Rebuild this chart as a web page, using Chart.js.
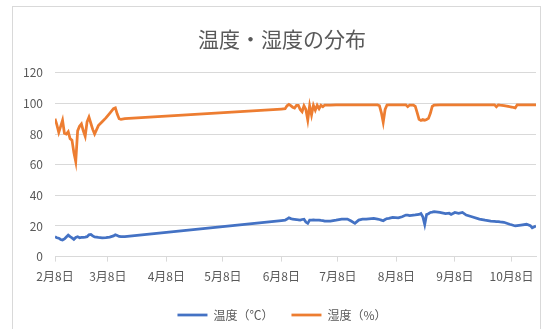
<!DOCTYPE html>
<html>
<head>
<meta charset="utf-8">
<script src="https://cdn.jsdelivr.net/npm/chart.js@4/dist/chart.umd.min.js"></script>
<style>
  html, body { margin: 0; padding: 0; background: #ffffff; }
  #wrap { position: relative; width: 553px; height: 329px; }
</style>
</head>
<body>
<div id="wrap"><canvas id="c" width="553" height="329"></canvas></div>
<script>
// ---- data (dates are month/day) ----
const dates = [
  '2/8','2/9','2/10','2/11','2/12','2/13','2/14','2/15','2/16','2/17','2/18','2/19','2/20','2/21','2/22','2/23','2/24','2/25','2/26','2/27','2/28',
  '3/1','3/3','3/5','3/7','3/9','3/11','3/12','3/13','3/14','3/15','3/17',
  '6/8','6/10','6/11','6/12','6/13','6/14','6/15','6/16','6/17','6/18','6/19','6/20','6/21','6/22','6/23','6/24','6/25','6/26','6/27','6/28','6/29','6/30',
  '7/1','7/4','7/7','7/10','7/13','7/15','7/17','7/19','7/21','7/23','7/27','7/29','7/30','7/31',
  '8/1','8/2','8/3','8/4','8/6','8/9','8/11','8/13','8/14','8/15','8/17','8/18','8/19','8/20','8/21','8/22','8/23','8/24','8/25','8/26','8/27','8/28','8/31',
  '9/3','9/5','9/6','9/8','9/10','9/12','9/14','9/17','9/21','9/24','9/27','9/29','9/30',
  '10/1','10/2','10/4','10/7','10/8','10/10','10/11','10/13','10/16','10/18','10/19','10/21'
];
const temperature = [
  12.9,12.3,12.0,11.2,10.8,11.5,12.8,14.0,13.0,12.2,11.2,12.5,13.0,12.3,12.6,12.5,12.7,13.0,14.3,14.5,13.5,
  12.8,12.5,12.3,12.4,12.7,13.5,14.2,13.8,13.2,13.0,13.1,
  23.5,23.8,24.5,25.3,24.8,24.4,24.3,24.2,24.0,23.8,24.2,24.4,22.5,21.7,23.8,23.8,23.9,23.8,23.8,23.8,23.6,23.5,
  23.2,23.2,23.8,24.5,24.5,23.2,21.7,23.8,24.4,24.4,24.9,24.5,24.2,23.8,
  23.4,24.2,24.8,24.9,25.6,25.3,26.0,27.1,27.0,26.7,27.1,27.2,27.4,27.5,28.1,26.0,21.0,27.5,28.0,28.8,29.0,29.3,28.8,
  28.0,28.3,27.5,28.8,28.3,28.8,27.1,26.0,24.5,23.8,23.2,23.0,22.9,
  22.8,22.6,22.4,21.1,20.8,20.0,20.2,20.6,21.1,20.2,18.8,20.0
];
const humidity = [
  90,86,81,85,89,80.5,80,81.5,77,76,68,62,82,85,86.5,82,78.5,88,91,87,83,
  80,85.5,88,90.5,93.5,96.5,97,93,90,89.5,90,
  96.3,96.5,98.4,99.3,98.5,97.5,97,98.7,98.7,96,94.5,98.4,96,89.1,98.4,92.4,98.7,95.5,98.7,96.5,98.7,97.8,
  98.9,98.9,99,99,99,99,99,99,99,99,99,99,98.5,94,
  87.6,96,98.9,99,99,99,99,99,97.8,98.9,98.9,98,94,89.5,88.8,89.5,89,89.5,90.2,93.5,98,98.9,99,
  99,99,99,99,99,99,99,99,99,99,99,99,97.8,
  99,98.8,98.5,97.8,97.6,97,99,99,99,99,99,99
];
const tickDates = ['2/8','3/8','4/8','5/8','6/8','7/8','8/8','9/8','10/8'];
const tickLabels = ['2月8日','3月8日','4月8日','5月8日','6月8日','7月8日','8月8日','9月8日','10月8日'];
const seriesNames = ['温度（℃）','湿度（%）'];
const chartTitle = '温度・湿度の分布';

// month/day -> day of year (non-leap year)
const monthStart = [0,31,59,90,120,151,181,212,243,273,304,334];
function dayOfYear(s) {
  const [m, d] = s.split('/').map(Number);
  return monthStart[m - 1] + d;
}
const xs = dates.map(dayOfYear);
const tickValues = tickDates.map(dayOfYear);
const tickMap = {};
tickValues.forEach((v, i) => { tickMap[v] = tickLabels[i]; });

const FONT = '"Noto Sans CJK JP", "Noto Sans", sans-serif';
Chart.defaults.font.family = FONT;
Chart.defaults.color = '#595959';

const frame = {
  id: 'frame',
  beforeDraw(chart) {
    const ctx = chart.ctx;
    ctx.save();
    ctx.fillStyle = '#ffffff';
    ctx.fillRect(0, 0, chart.width, chart.height);
    ctx.strokeStyle = '#d9d9d9';
    ctx.lineWidth = 1;
    ctx.strokeRect(12.5, 6.5, 528, 340);
    ctx.restore();
  }
};

new Chart(document.getElementById('c'), {
  type: 'line',
  data: {
    datasets: [
      {
        label: seriesNames[0],
        data: xs.map((x, i) => ({ x, y: temperature[i] })),
        borderColor: '#4472C4',
        backgroundColor: '#4472C4',
        borderWidth: 2.75,
        pointRadius: 0,
        tension: 0
      },
      {
        label: seriesNames[1],
        data: xs.map((x, i) => ({ x, y: humidity[i] })),
        borderColor: '#ED7D31',
        backgroundColor: '#ED7D31',
        borderWidth: 2.75,
        pointRadius: 0,
        tension: 0
      }
    ]
  },
  options: {
    responsive: false,
    animation: false,
    devicePixelRatio: 1,
    layout: { padding: { left: 28, right: 17, top: 0, bottom: -2 } },
    plugins: {
      title: {
        display: true,
        text: chartTitle,
        color: '#595959',
        font: { size: 21, weight: 'normal', family: FONT },
        padding: { top: 26.5, bottom: 21 }
      },
      legend: {
        position: 'bottom',
        labels: {
          usePointStyle: true,
          pointStyle: 'line',
          pointStyleWidth: 30,
          color: '#595959',
          font: { size: 12, family: FONT },
          padding: 18
        }
      },
      tooltip: { enabled: false }
    },
    scales: {
      x: {
        type: 'linear',
        min: xs[0],
        max: xs[xs.length - 1],
        afterBuildTicks(scale) {
          scale.ticks = tickValues.map(v => ({ value: v }));
        },
        ticks: {
          autoSkip: false,
          maxRotation: 0,
          padding: 7.5,
          color: '#595959',
          font: { size: 12, family: FONT },
          callback: (v) => tickMap[v] || ''
        },
        grid: { drawOnChartArea: false, drawTicks: true, tickLength: 5, color: '#d9d9d9' },
        border: { color: '#d9d9d9' }
      },
      y: {
        min: 0,
        max: 120,
        ticks: { stepSize: 20, padding: 12, color: '#595959', font: { size: 12, family: FONT } },
        grid: { color: '#d9d9d9', drawTicks: false },
        border: { display: false },
        afterFit(scale) {
          scale.width = 27;
          // let tick labels extend left of the (narrow) axis box without clipping
          scale._computeLabelArea = () => undefined;
        }
      }
    }
  },
  plugins: [frame]
});
</script>
</body>
</html>
